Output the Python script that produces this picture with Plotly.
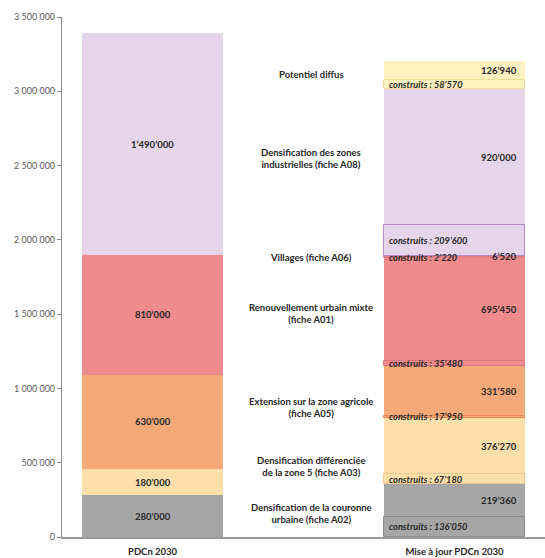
import plotly.graph_objects as go

categories = [
    "Densification de la couronne<br>urbaine (fiche A02)",
    "Densification différenciée<br>de la zone 5 (fiche A03)",
    "Extension sur la zone agricole<br>(fiche A05)",
    "Renouvellement urbain mixte<br>(fiche A01)",
    "Villages (fiche A06)",
    "Densification des zones<br>industrielles (fiche A08)",
    "Potentiel diffus",
]
pdcn_2030 = [280000, 180000, 630000, 810000, 0, 1490000, 0]
construits = [136050, 67180, 17950, 35480, 2220, 209600, 58570]
restants = [219360, 376270, 331580, 695450, 6520, 920000, 126940]
bar_labels = ["PDCn 2030", "Mise à jour PDCn 2030"]
y_ticks = [0, 500000, 1000000, 1500000, 2000000, 2500000, 3000000, 3500000]

fills = ["#A6A6A6", "#FDDFAA", "#F5A979", "#EF8A8D", "#F0898C", "#E6D5EA", "#FDF2C0"]
edges = ["#8C8C8C", "#F3C58E", "#E8885A", "#DC7880", "#E07E84", "#B68AC4", "#F1DC98"]

FONT = "Lato"
TXT = "#262626"
BW = 0.93
X_LEFT, X_MID, X_RIGHT = 0, 1.05, 2


def fmt(v):
    return f"{v:,}".replace(",", "’")


fig = go.Figure()
ann = []

# Left bar
base = 0
left_mid = {}
for i, v in enumerate(pdcn_2030):
    if v <= 0:
        continue
    fig.add_trace(go.Bar(x=[X_LEFT], y=[v], base=[base], width=BW,
                         marker=dict(color=fills[i], line=dict(width=0)),
                         hoverinfo="skip", showlegend=False))
    left_mid[i] = base + v / 2
    ann.append(dict(x=X_LEFT, y=base + v / 2, text=fmt(v), showarrow=False, xanchor="center",
                    font=dict(family=FONT, size=9.5, color=TXT, weight="bold")))
    base += v

# Right bar segment bases
base = 0
right_mid = {}
seg_c, seg_r = [], []
for i in range(len(categories)):
    c, r = construits[i], restants[i]
    seg_c.append(base)
    seg_r.append(base + c)
    right_mid[i] = base + (c + r) / 2
    base += c + r

for i in range(len(categories)):
    c, r = construits[i], restants[i]
    fig.add_trace(go.Bar(x=[X_RIGHT], y=[c], base=[seg_c[i]], width=BW,
                         marker=dict(color=fills[i], line=dict(width=0)),
                         hoverinfo="skip", showlegend=False))
    fig.add_trace(go.Bar(x=[X_RIGHT], y=[r], base=[seg_r[i]], width=BW,
                         marker=dict(color=fills[i], line=dict(width=0)),
                         hoverinfo="skip", showlegend=False))
    ann.append(dict(x=X_RIGHT + BW / 2 - 0.04, y=seg_r[i] + r / 2, text=fmt(r),
                    showarrow=False, xanchor="right",
                    font=dict(family=FONT, size=9.5, color=TXT, weight="bold")))

# outlines of the "construits" parts drawn on top
for i in range(len(categories)):
    c = construits[i]
    fig.add_trace(go.Bar(x=[X_RIGHT], y=[c], base=[seg_c[i]], width=BW,
                         marker=dict(color="rgba(0,0,0,0)", line=dict(width=1, color=edges[i])),
                         hoverinfo="skip", showlegend=False))
    ann.append(dict(x=X_RIGHT - BW / 2 + 0.02, y=seg_c[i] + c / 2, text="construits : " + fmt(c),
                    showarrow=False, xanchor="left",
                    font=dict(family=FONT, size=9.2, color=TXT, weight="bold", style="italic")))

# Middle category labels
for i, name in enumerate(categories):
    if i in left_mid:
        y = (left_mid[i] + right_mid[i]) / 2
    else:
        y = right_mid[i]
    ann.append(dict(x=X_MID, y=y, text=name, showarrow=False, xanchor="center",
                    font=dict(family=FONT, size=9.5, color=TXT, weight="bold")))

fig.update_layout(
    barmode="overlay",
    width=545, height=558,
    margin=dict(l=62, r=0, t=17, b=21),
    paper_bgcolor="white", plot_bgcolor="white",
    separators=", ",
    bargap=0,
    annotations=ann,
    xaxis=dict(range=[-0.6, 2.6], tickvals=[X_LEFT, X_RIGHT], ticktext=bar_labels,
               showline=True, linecolor="#9A9A9A", linewidth=1.5, showgrid=False, zeroline=False,
               ticks="", ticklabelstandoff=5,
               tickfont=dict(family=FONT, size=9.5, color=TXT, weight="bold")),
    yaxis=dict(range=[0, 3500000], tickvals=y_ticks, tickformat=",d",
               showline=True, linecolor="#8A8A8A", linewidth=1.2, showgrid=False, zeroline=False,
               ticks="outside", ticklen=4, tickcolor="#8A8A8A",
               tickfont=dict(family=FONT, size=9, color="#595959")),
)

fig.write_html("out.html")
